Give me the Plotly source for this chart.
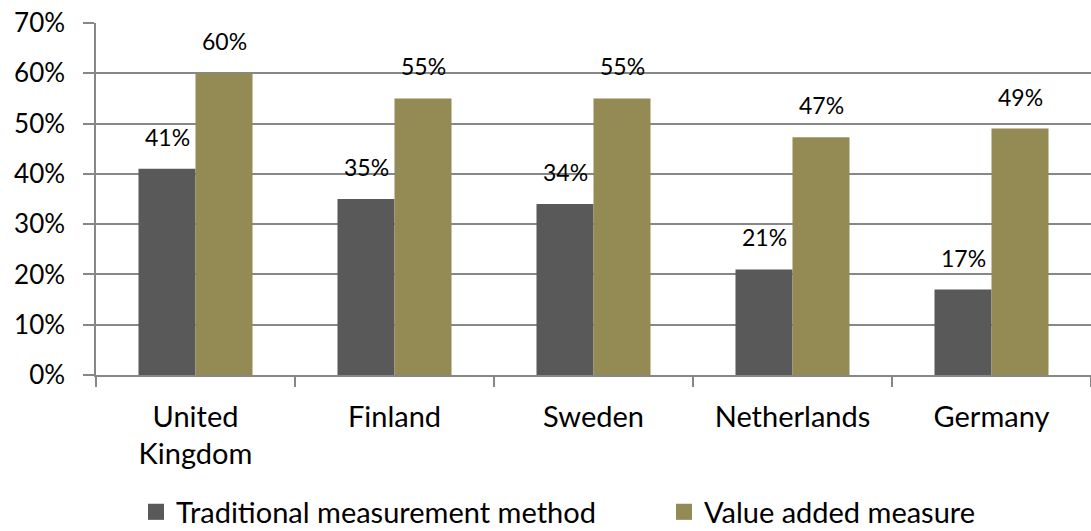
import plotly.graph_objects as go

categories = ["United<br>Kingdom", "Finland", "Sweden", "Netherlands", "Germany"]
traditional = [41, 35, 34, 21, 17]
value_added = [60, 55, 55, 47.3, 49]
series_names = ["Traditional measurement method", "Value added measure"]
colors = ["#595959", "#948A54"]
label_traditional = ["41%", "35%", "34%", "21%", "17%"]
label_value_added = ["60%", "55%", "55%", "47%", "49%"]
y_ticks = [0, 10, 20, 30, 40, 50, 60, 70]
y_tick_text = ["0%", "10%", "20%", "30%", "40%", "50%", "60%", "70%"]

FONT = "Lato"
GRID = "#878787"

fig = go.Figure()
for name, vals, col in zip(series_names, [traditional, value_added], colors):
    fig.add_trace(go.Bar(x=categories, y=vals, name=name, marker_color=col,
                         marker_line_width=0, showlegend=False))
# legend proxies (larger squares), each in its own legend box
for name, col, lg in zip(series_names, colors, ["legend", "legend2"]):
    fig.add_trace(go.Scatter(x=[None], y=[None], mode="markers", name=name, legend=lg,
                             marker=dict(symbol="square", size=18, color=col)))

for vals, labels, shift in [(traditional, label_traditional, -28.5), (value_added, label_value_added, 28.5)]:
    for c, v, t in zip(categories, vals, labels):
        fig.add_annotation(x=c, y=v, text=t, showarrow=False, xshift=shift,
                           yanchor="bottom", yshift=16,
                           font=dict(family=FONT, size=23, color="#000"))

legend_common = dict(orientation="h", xref="container", xanchor="left",
                     y=1 - 512 / 531, yref="container", yanchor="middle",
                     font=dict(family=FONT, size=29), itemsizing="trace")

fig.update_layout(
    width=1091, height=531,
    margin=dict(l=96, r=0, t=23, b=156, autoexpand=False),
    plot_bgcolor="white", paper_bgcolor="white",
    barmode="group", bargap=0.427, bargroupgap=0,
    font=dict(family=FONT, color="#000"),
    legend=dict(x=136 / 1091, **legend_common),
    legend2=dict(x=664 / 1091, **legend_common),
)
fig.update_yaxes(range=[0, 70], tickmode="array", tickvals=y_ticks, ticktext=y_tick_text,
                 showgrid=True, gridcolor=GRID, gridwidth=1.5,
                 showline=True, linecolor=GRID, linewidth=1.5,
                 ticks="outside", ticklen=11, tickcolor=GRID, tickwidth=1.5,
                 tickfont=dict(family=FONT, size=26), ticklabelstandoff=13, zeroline=False,
                 automargin=False)
fig.update_xaxes(showline=True, linecolor=GRID, linewidth=1.5,
                 ticks="outside", tickson="boundaries", ticklen=10, tickcolor=GRID, tickwidth=1.5,
                 tickfont=dict(family=FONT, size=29), ticklabelstandoff=15, automargin=False)

fig.write_html("out.html")
